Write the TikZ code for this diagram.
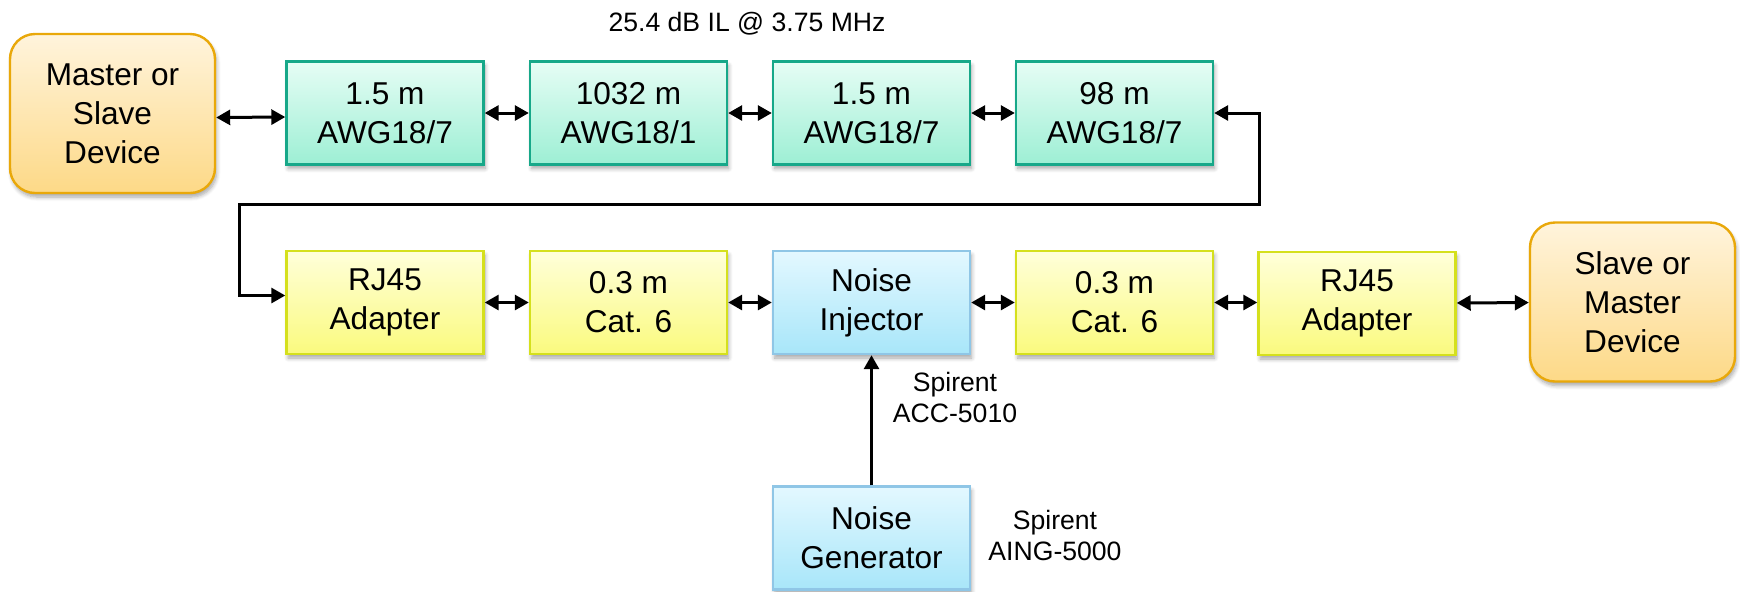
\documentclass[tikz,border=0pt]{standalone}
\usepackage{fontspec}
\setmainfont{Liberation Sans}
\usetikzlibrary{arrows.meta,shadows,shadows.blur}
\definecolor{devT}{HTML}{FFF4DC}
\definecolor{devB}{HTML}{FDD987}
\definecolor{devD}{HTML}{E9A80A}
\definecolor{grnT}{HTML}{E6FDF5}
\definecolor{grnB}{HTML}{9DEFD4}
\definecolor{grnD}{HTML}{17A889}
\definecolor{yelT}{HTML}{FFFFDA}
\definecolor{yelB}{HTML}{FAFA7E}
\definecolor{yelD}{HTML}{D5E01D}
\definecolor{bluT}{HTML}{E3F8FF}
\definecolor{bluB}{HTML}{A8E6F9}
\definecolor{bluD}{HTML}{8FC6E6}
\begin{document}
\begin{tikzpicture}[x=0.5pt,y=-0.5pt,
  box/.style={draw, line width=1.2pt, minimum width=98.5pt, minimum height=51.5pt,
    inner sep=0pt, align=center, font=\fontsize{15.8}{19.5}\selectfont,
    blur shadow={shadow xshift=0.8pt, shadow yshift=-2pt, shadow blur steps=6,
      shadow blur radius=2pt, shadow opacity=35}},
  device/.style={box, draw=devD, top color=devT, bottom color=devB,
    minimum width=102.5pt, minimum height=79.5pt, rounded corners=12.5pt},
  cable/.style={box, draw=grnD, top color=grnT, bottom color=grnB},
  patch/.style={box, draw=yelD, top color=yelT, bottom color=yelB},
  noisebox/.style={box, draw=bluD, top color=bluT, bottom color=bluB},
  lbl/.style={align=center, inner sep=0pt, font=\fontsize{13.3}{15.5}\selectfont},
  tip/.tip={Triangle[length=7pt,width=7.5pt]},
  conn/.style={line width=1.5pt, tip-tip},
  one/.style={line width=1.5pt, -tip},
]
\useasboundingbox (0,0) rectangle (1740,591);

\node[lbl, anchor=base] (title) at (747,31) {25.4 dB IL @ 3.75 MHz};

\node[device] (master) at (112.5,113.5) {Master or\\Slave\\Device};
\node[cable] (g1) at (385,113) {1.5 m\\AWG18/7};
\node[cable] (g2) at (628.5,113) {1032 m\\AWG18/1};
\node[cable] (g3) at (871.5,113) {1.5 m\\AWG18/7};
\node[cable] (g4) at (1114.5,113) {98 m\\AWG18/7};

\node[patch] (rjL) at (385,302.5) {RJ45\\Adapter};
\node[patch] (c1) at (628.5,302.5) {0.3 m\\Cat. 6};
\node[noisebox] (inj) at (871.5,302.5) {Noise\\Injector};
\node[patch] (c2) at (1114.5,302.5) {0.3 m\\Cat. 6};
\node[patch] (rjR) at (1357,303.5) {RJ45\\Adapter};
\node[device] (slave) at (1632.5,302) {Slave or\\Master\\Device};

\node[noisebox] (gen) at (871.5,538) {Noise\\Generator};

\node[lbl, anchor=north] (acc) at (955,371.5) {Spirent\\ACC-5010};
\node[lbl, anchor=north] (aing) at (1055,510) {Spirent\\AING-5000};

\draw[conn] ([yshift=-2pt]master.east) -- ([yshift=-2pt]g1.west);
\draw[conn] (g1) -- (g2);
\draw[conn] (g2) -- (g3);
\draw[conn] (g3) -- (g4);

\coordinate (r1) at (1259,204);
\coordinate (r2) at (239,204);
\draw[conn, line join=miter] (g4.east) -| (r1) -- (r2) |- ([yshift=3.5pt]rjL.west);

\draw[conn] (rjL) -- (c1);
\draw[conn] (c1) -- (inj);
\draw[conn] (inj) -- (c2);
\draw[conn] (c2.east) -- (c2.east -| rjR.west);
\draw[conn] (rjR) -- (slave);
\draw[one] (gen) -- (inj);
\end{tikzpicture}
\end{document}
